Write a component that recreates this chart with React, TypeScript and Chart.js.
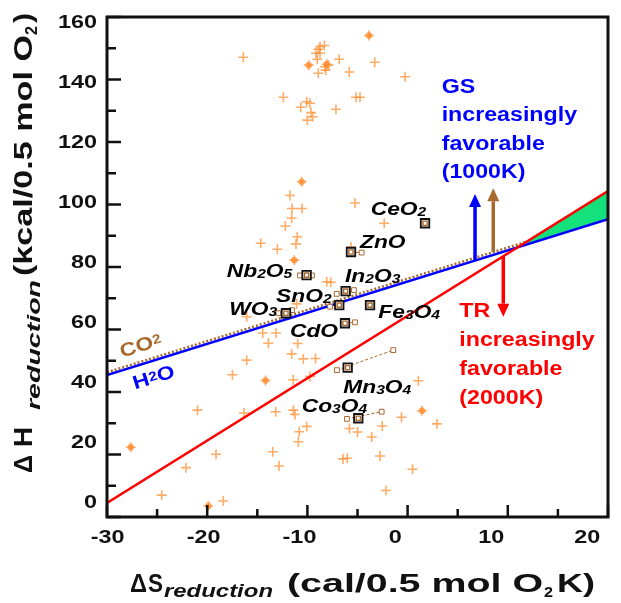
import React, { useEffect, useRef } from 'react';
import { Chart, registerables } from 'chart.js';

Chart.register(...registerables);

// ---------------- data ----------------
// single oxides (orange "+")  ΔS (cal/0.5 mol O2 K), ΔH (kcal/0.5 mol O2)
const plusS = [-16.4, -8.74, -8.31, -8.91, -9.14, -8.74, -9.01, -7.91, -8.24, -8.17, -8.91, -6.82, -5.82, -3.28, -0.26,
  -12.4, -10.07, -9.74, -10.67, -9.64, -9.47, -10.01, -7.15, -5.15, -4.75, -11.74, -11.54, -10.54, -11.57, -12.2,
  -11.01, -11.14, -14.66, -13.0, -8.07, -7.67, -5.25, -2.33, -5.65, -11.07, -16.06, -14.46, -13.13, -13.9, -10.97,
  -11.57, -10.41, -9.19, -16.06, -17.48, -11.41, -9.74, -20.97, -16.33, -13.16, -11.41, -11.24, -10.07, -10.81, -10.91,
  -19.12, -13.46, -22.12, -12.83, -6.45, -6.02, -24.54, -18.39, -5.8, -5.0, -3.58, -2.53, -0.61, 2.93, -2.75, 0.49, -2.16, 1.07];
const plusH = [147.1, 150.5, 150.9, 149.7, 148.4, 148.4, 146.5, 144.6, 144.1, 143.0, 142.0, 146.5, 142.4, 145.5, 140.9,
  134.3, 132.9, 132.4, 131.1, 129.4, 128.1, 127.0, 130.5, 134.3, 134.3, 102.9, 98.7, 98.7, 95.7, 93.1,
  89.7, 87.4, 87.6, 85.7, 75.3, 75.1, 100.5, 94.0, 86.4, 68.2, 64.1, 58.9, 58.9, 55.6, 55.5,
  52.2, 50.6, 50.7, 50.2, 45.5, 43.9, 45.0, 34.2, 33.3, 33.7, 34.2, 32.8, 29.0, 27.3, 24.1,
  20.1, 20.9, 15.8, 16.3, 18.6, 18.8, 7.0, 5.1, 28.3, 27.2, 25.6, 29.1, 31.9, 29.8, 19.5, 15.3, 8.5, 43.6];
// overlapping (denser) oxide points
const denseS = [-3.85, -9.87, -8.07, -10.57, -11.31, -14.18, -27.63, -19.89, 1.44];
const denseH = [154.1, 144.6, 144.9, 107.3, 82.2, 43.7, 22.3, 3.5, 34.0];

// labelled materials
const matNames = ['CeO2', 'ZnO', 'Nb2O5', 'In2O3', 'SnO2', 'WO3', 'Fe3O4', 'CdO', 'Mn3O4', 'Co3O4'];
const matS = [1.74, -5.65, -10.08, -6.18, -6.82, -12.14, -3.75, -6.25, -5.98, -4.92];
const matH = [94.0, 84.8, 77.4, 72.3, 67.8, 65.2, 67.8, 62.0, 47.8, 31.6];
const rangeLoS = [1.74, -5.65, -10.74, -7.08, -7.74, -12.9, -3.75, -6.25, -7.05, -6.05];
const rangeLoH = [94.0, 84.8, 77.3, 71.4, 67.3, 65.2, 67.8, 62.0, 47.0, 31.4];
const rangeHiS = [1.74, -4.59, -9.54, -5.35, -6.82, -11.54, -3.75, -5.25, -1.43, -2.59];
const rangeHiH = [94.0, 84.6, 77.3, 72.6, 67.8, 66.2, 67.8, 62.3, 53.4, 33.7];
const matLabelS = [-3.68, -4.75, -18.05, -6.25, -13.13, -17.79, -2.92, -11.74, -6.42, -10.57];
const matLabelH = [96.6, 86.0, 76.9, 75.3, 68.9, 64.6, 63.6, 57.5, 39.6, 33.7];

// equilibrium lines
const lineS = [-30, 20];
const h2oH = [45.4, 95.3];
const co2H = [46.3, 96.2];
const trH = [4.5, 104.3];

// arrows: GS (H2O), GS (CO2), TR
const arrowS = [6.73, 8.55, 9.55];
const arrowTipH = [103.4, 105.2, 64.1];

// axis ticks
const xTickValues = [-30, -20, -10, 0, 10, 20];
const yTickValues = [0, 20, 40, 60, 80, 100, 120, 140, 160];

const FONT = '"Liberation Sans", Arial, Helvetica, sans-serif';
const BLUE = '#0000ff';
const BROWN = '#a8692e';
const RED = '#ff0000';
const ORANGE = 'rgba(255,140,45,0.72)';

function formulaSegs(name: string, size: number, sub: number, style: string, dy: number) {
  const segs: { t: string; font: string; dy: number }[] = [];
  for (const ch of name) {
    const isDigit = ch >= '0' && ch <= '9';
    segs.push({ t: ch, font: `${style} ${isDigit ? sub : size}px ${FONT}`, dy: isDigit ? dy : 0 });
  }
  return segs;
}

function drawSegs(ctx: CanvasRenderingContext2D, segs: { t: string; font: string; dy: number }[], x: number, y: number, sx: number, rot = 0) {
  ctx.save();
  ctx.translate(x, y);
  if (rot) ctx.rotate(rot);
  ctx.scale(sx, 1);
  let cx = 0;
  for (const s of segs) {
    ctx.font = s.font;
    ctx.fillText(s.t, cx, s.dy);
    cx += ctx.measureText(s.t).width;
  }
  ctx.restore();
}

function fitText(ctx: CanvasRenderingContext2D, t: string, font: string, x: number, y: number, w: number) {
  ctx.font = font;
  const m = ctx.measureText(t).width;
  ctx.save();
  ctx.translate(x, y);
  ctx.scale(w / m, 1);
  ctx.fillText(t, 0, 0);
  ctx.restore();
}

export default function App() {
  const ref = useRef<HTMLCanvasElement>(null);

  useEffect(() => {
    const canvas = ref.current!;
    const at = (arr: number[], x: number) => arr[0] + ((arr[1] - arr[0]) * (x - lineS[0])) / (lineS[1] - lineS[0]);
    const slopeT = (trH[1] - trH[0]) / (lineS[1] - lineS[0]);
    const slopeW = (h2oH[1] - h2oH[0]) / (lineS[1] - lineS[0]);
    const xi = lineS[0] + (h2oH[0] - trH[0]) / (slopeT - slopeW);

    const rangeData: any[] = [];
    const rangeRadius: number[] = [];
    matNames.forEach((_, i) => {
      if (rangeLoS[i] === rangeHiS[i] && rangeLoH[i] === rangeHiH[i]) return;
      rangeData.push({ x: rangeLoS[i], y: rangeLoH[i] }, { x: rangeHiS[i], y: rangeHiH[i] }, { x: rangeHiS[i], y: null });
      rangeRadius.push(3.4, 3.4, 0);
    });

    const decor = {
      id: 'decor',
      afterDatasetsDraw(chart: any) {
        const ctx: CanvasRenderingContext2D = chart.ctx;
        const xs = chart.scales.x;
        const ys = chart.scales.y;
        const a = chart.chartArea;
        const px = (v: number) => xs.getPixelForValue(v);
        const py = (v: number) => ys.getPixelForValue(v);

        // arrows
        const arrowBase = [at(h2oH, arrowS[0]), at(co2H, arrowS[1]), at(trH, arrowS[2])];
        const arrowCol = [BLUE, BROWN, RED];
        arrowS.forEach((s, i) => {
          const x = px(s);
          const y0 = py(arrowBase[i]);
          const y1 = py(arrowTipH[i]);
          const dir = y1 < y0 ? -1 : 1;
          const headL = 13;
          ctx.save();
          ctx.strokeStyle = arrowCol[i];
          ctx.fillStyle = arrowCol[i];
          ctx.lineWidth = 3.5;
          ctx.beginPath();
          ctx.moveTo(x, y0);
          ctx.lineTo(x, y1 - dir * headL);
          ctx.stroke();
          ctx.beginPath();
          ctx.moveTo(x, y1);
          ctx.lineTo(x - 6, y1 - dir * headL);
          ctx.lineTo(x + 6, y1 - dir * headL);
          ctx.closePath();
          ctx.fill();
          ctx.restore();
        });

        // frame
        ctx.save();
        ctx.strokeStyle = '#111';
        ctx.lineWidth = 3;
        ctx.strokeRect(a.left, a.top, a.right - a.left, a.bottom - a.top);
        ctx.lineWidth = 2.5;
        ctx.beginPath();
        for (let v = -30; v <= 20; v += 5) {
          const x = px(v);
          const len = v % 10 === 0 ? 12 : 8;
          ctx.moveTo(x, a.bottom);
          ctx.lineTo(x, a.bottom - len);
        }
        for (let v = 0; v <= 160; v += 10) {
          const y = py(v);
          const len = v % 20 === 0 ? 14 : 9;
          ctx.moveTo(a.left, y);
          ctx.lineTo(a.left + len, y);
        }
        ctx.stroke();

        // tick labels
        ctx.fillStyle = '#111';
        const TF = `bold 18px ${FONT}`;
        const tickSx = 1.3;
        yTickValues.forEach((v) => {
          const t = String(v);
          ctx.font = TF;
          const w = ctx.measureText(t).width * tickSx;
          const cy = a.top + 4.7 + (py(v) - a.top) * 0.96;
          drawSegs(ctx, [{ t, font: TF, dy: 0 }], 97 - w, cy + 6.5, tickSx);
        });
        xTickValues.forEach((v) => {
          const t = String(v);
          ctx.font = TF;
          const w = ctx.measureText(t).width * tickSx;
          const cx = a.left + 0.7 + (px(v) - a.left) * 0.957;
          drawSegs(ctx, [{ t, font: TF, dy: 0 }], cx - w / 2, 543, tickSx);
        });

        // axis titles
        const B25 = `bold 25px ${FONT}`;
        fitText(ctx, 'Δ', B25, 130, 592, 17);
        fitText(ctx, 'S', B25, 148, 592, 15);
        fitText(ctx, 'reduction', `italic bold 18px ${FONT}`, 164, 597, 109);
        fitText(ctx, '(cal/0.5 mol O', B25, 287, 592, 256);
        fitText(ctx, '2', `bold 15px ${FONT}`, 544, 597, 9);
        fitText(ctx, 'K)', B25, 557, 592, 38);

        ctx.save();
        ctx.translate(32, 473);
        ctx.rotate(-Math.PI / 2);
        fitText(ctx, 'Δ', B25, 0, 0, 18);
        fitText(ctx, 'H', B25, 26, 0, 20);
        fitText(ctx, 'reduction', `italic bold 18px ${FONT}`, 63, 8, 130);
        fitText(ctx, '(kcal/0.5 mol O', B25, 197, 0, 241);
        fitText(ctx, '2', `bold 16px ${FONT}`, 438, 5, 9);
        fitText(ctx, ')', B25, 450, 0, 10);
        ctx.restore();

        // material labels
        ctx.fillStyle = '#000';
        matNames.forEach((n, i) => {
          drawSegs(ctx, formulaSegs(n, 19, 13, 'italic bold', 1), px(matLabelS[i]), py(matLabelH[i]), 1.2);
        });

        // GS / TR texts
        const gs = ['GS', 'increasingly', 'favorable', '(1000K)'];
        const tr = ['TR', 'increasingly', 'favorable', '(2000K)'];
        ctx.fillStyle = BLUE;
        gs.forEach((t, i) => drawSegs(ctx, [{ t, font: `bold 20px ${FONT}`, dy: 0 }], px(3.4), py(135.8) + i * 28.6, 1.16));
        ctx.fillStyle = RED;
        tr.forEach((t, i) => drawSegs(ctx, [{ t, font: `bold 20px ${FONT}`, dy: 0 }], px(5.16), py(64.1) + i * 29, 1.16));

        // CO2 / H2O line labels, rotated along the lines
        const ang = Math.atan2(py(h2oH[1]) - py(h2oH[0]), px(lineS[1]) - px(lineS[0]));
        const place = (s: number, arr: number[], off: number): [number, number] => [px(s), py(at(arr, s)) + off];
        ctx.fillStyle = BROWN;
        const c = place(-28.5, co2H, -10);
        drawSegs(ctx, [
          { t: 'CO', font: `bold 19px ${FONT}`, dy: 0 },
          { t: '2', font: `bold 13px ${FONT}`, dy: -3 },
        ], c[0], c[1], 1.2, ang);
        ctx.fillStyle = BLUE;
        const h = place(-27.2, h2oH, 23);
        drawSegs(ctx, [
          { t: 'H', font: `bold 19px ${FONT}`, dy: 0 },
          { t: '2', font: `bold 13px ${FONT}`, dy: -3 },
          { t: 'O', font: `bold 19px ${FONT}`, dy: 0 },
        ], h[0], h[1], 1.2, ang);
        ctx.restore();
      },
    };

    const chart = new Chart(canvas, {
      type: 'scatter',
      data: {
        datasets: [
          {
            label: 'materials inner',
            data: matS.map((s, i) => ({ x: s, y: matH[i] })),
            pointStyle: 'rect',
            pointRadius: 3,
            borderColor: BROWN,
            backgroundColor: '#fff',
            borderWidth: 1.4,
            order: 1,
          } as any,
          {
            label: 'materials',
            data: matS.map((s, i) => ({ x: s, y: matH[i] })),
            pointStyle: 'rect',
            pointRadius: 6,
            borderColor: '#111',
            backgroundColor: '#fff',
            borderWidth: 1.8,
            order: 2,
          },
          {
            type: 'line',
            label: 'ranges',
            data: rangeData,
            showLine: true,
            spanGaps: false,
            borderColor: BROWN,
            borderWidth: 1,
            borderDash: [3, 2],
            pointStyle: 'rect',
            pointRadius: rangeRadius,
            pointBorderColor: BROWN,
            pointBackgroundColor: '#fff',
            pointBorderWidth: 1,
            order: 3,
          } as any,
          {
            type: 'line',
            label: 'TR 2000K',
            data: lineS.map((s, i) => ({ x: s, y: trH[i] })),
            borderColor: RED,
            borderWidth: 2.5,
            pointRadius: 0,
            order: 4,
          },
          {
            type: 'line',
            label: 'H2O 1000K',
            data: lineS.map((s, i) => ({ x: s, y: h2oH[i] })),
            borderColor: BLUE,
            borderWidth: 2.5,
            pointRadius: 0,
            order: 5,
          },
          {
            type: 'line',
            label: 'window',
            data: [{ x: xi, y: at(trH, xi) }, { x: lineS[1], y: trH[1] }],
            borderWidth: 0,
            borderColor: 'rgba(0,0,0,0)',
            backgroundColor: '#14e07c',
            pointRadius: 0,
            fill: '+1',
            order: 6,
          },
          {
            type: 'line',
            label: 'window base',
            data: [{ x: xi, y: at(h2oH, xi) }, { x: lineS[1], y: h2oH[1] }],
            borderWidth: 0,
            borderColor: 'rgba(0,0,0,0)',
            pointRadius: 0,
            fill: false,
            order: 7,
          },
          {
            type: 'line',
            label: 'CO2 1000K',
            data: lineS.map((s, i) => ({ x: s, y: co2H[i] })),
            borderColor: BROWN,
            borderWidth: 2.5,
            borderDash: [2, 2],
            pointRadius: 0,
            order: 8,
          },
          {
            label: 'dense',
            data: denseS.map((s, i) => ({ x: s, y: denseH[i] })),
            pointStyle: 'circle',
            pointRadius: 3.2,
            borderWidth: 0,
            backgroundColor: 'rgba(255,140,45,0.8)',
            order: 9,
          },
          {
            label: 'dense cross',
            data: denseS.map((s, i) => ({ x: s, y: denseH[i] })),
            pointStyle: 'cross',
            pointRadius: 5,
            borderWidth: 1.6,
            borderColor: ORANGE,
            order: 10,
          },
          {
            label: 'oxides',
            data: plusS.map((s, i) => ({ x: s, y: plusH[i] })),
            pointStyle: 'cross',
            pointRadius: 5,
            borderWidth: 1.6,
            borderColor: ORANGE,
            order: 11,
          },
        ],
      },
      options: {
        responsive: false,
        maintainAspectRatio: false,
        animation: false,
        events: [],
        layout: { padding: { left: 107, right: 13, top: 17, bottom: 86 } },
        plugins: { legend: { display: false }, tooltip: { enabled: false } },
        scales: {
          x: { type: 'linear', min: -30, max: 20, display: false },
          y: { type: 'linear', min: 0, max: 160, display: false },
        },
      },
      plugins: [decor],
    } as any);
    return () => chart.destroy();
  }, []);

  return (
    <div style={{ position: 'fixed', left: 0, top: 0, width: 621, height: 603, background: '#fff' }}>
      <canvas ref={ref} width={621} height={603} style={{ display: 'block' }} />
    </div>
  );
}
